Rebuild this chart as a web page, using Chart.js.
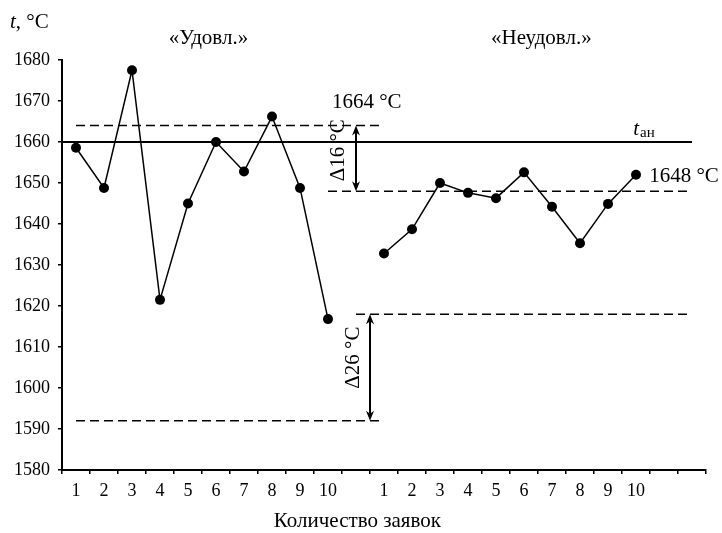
<!doctype html>
<html lang="ru">

<head>
    <meta charset="UTF-8" />
    <title>Температура по заявкам</title>
    <script src="https://cdn.jsdelivr.net/npm/chart.js"></script>
    <style>
        html, body { margin: 0; padding: 0; background: #fff; }
        #wrap { width: 722px; height: 533px; }
    </style>
</head>

<body>
    <div id="wrap"><canvas id="chart"></canvas></div>
    <script>
        // Categories: 10 orders, a gap, 10 orders, two empty slots.
        const CATEGORIES = ['1', '2', '3', '4', '5', '6', '7', '8', '9', '10', '',
            '1', '2', '3', '4', '5', '6', '7', '8', '9', '10', '', ''];
        const SATISFACTORY = [1658.6, 1648.8, 1677.5, 1621.5, 1645, 1660, 1652.8, 1666.2, 1648.8, 1616.8];
        const UNSATISFACTORY = [1632.8, 1638.7, 1650, 1647.6, 1646.3, 1652.6, 1644.2, 1635.3, 1644.9, 1652];
        const Y_MIN = 1580, Y_MAX = 1680, Y_STEP = 10;
        const T_AN = 1660;
        // [level, from category, to category]
        const DASHED = [[1664, 0, 11], [1648, 9, 22], [1618, 10, 22], [1592, 0, 11]];
        // [category, from level, to level]
        const ARROWS = [[10, 1648, 1664], [10.5, 1592, 1618]];

        const FONT = "'Liberation Serif', 'Times New Roman', serif";
        const LABEL_SIZE = 21;
        Chart.defaults.font.family = FONT;
        Chart.defaults.color = '#000';

        let goodData = CATEGORIES.map((c, i) => (i < 10 ? SATISFACTORY[i] : null));
        let badData = CATEGORIES.map((c, i) => (i >= 11 && i <= 20 ? UNSATISFACTORY[i - 11] : null));

        function seriesSet(data) {
            return {
                data: data,
                borderColor: '#000',
                borderWidth: 1.5,
                pointRadius: 5,
                pointBackgroundColor: '#000',
                pointBorderWidth: 0,
                tension: 0,
                order: 0,
            };
        }

        function levelSet(level, from, to, dash, width) {
            return {
                xAxisID: 'xl',
                data: [{ x: from, y: level }, { x: to, y: level }],
                borderColor: '#000',
                borderWidth: width,
                borderDash: dash,
                pointRadius: 0,
                order: 1,
            };
        }

        let datasets = [seriesSet(goodData), seriesSet(badData),
            levelSet(T_AN, -0.5, 22, [], 2)];
        for (let [lv, a, b] of DASHED) datasets.push(levelSet(lv, a, b, [9, 5], 1.5));

        function text(ctx, str, x, y, size, align, style) {
            ctx.font = (style || '') + ' ' + size + 'px ' + FONT;
            ctx.textAlign = align || 'left';
            ctx.textBaseline = 'alphabetic';
            ctx.fillText(str, x, y);
            return ctx.measureText(str).width;
        }

        // Double-headed vertical arrow between two pixel heights.
        function arrow(ctx, x, ya, yb) {
            let top = Math.min(ya, yb), bot = Math.max(ya, yb);
            ctx.lineWidth = 2;
            ctx.beginPath();
            ctx.moveTo(x, top + 6);
            ctx.lineTo(x, bot - 6);
            ctx.stroke();
            for (let [tip, dir] of [[top, 1], [bot, -1]]) {
                ctx.beginPath();
                ctx.moveTo(x, tip);
                ctx.lineTo(x - 4, tip + dir * 10);
                ctx.lineTo(x, tip + dir * 7);
                ctx.lineTo(x + 4, tip + dir * 10);
                ctx.closePath();
                ctx.fill();
            }
        }

        const annotations = {
            id: 'annotations',
            afterDatasetsDraw(chart) {
                const { ctx, chartArea, scales: { x, y } } = chart;
                ctx.save();
                ctx.fillStyle = '#000';
                ctx.strokeStyle = '#000';

                for (let [c, a, b] of ARROWS)
                    arrow(ctx, x.getPixelForValue(c), y.getPixelForValue(a), y.getPixelForValue(b));

                // y axis title
                let w = text(ctx, 't', 10, 28, LABEL_SIZE, 'left', 'italic');
                text(ctx, ', °C', 10 + w, 28, LABEL_SIZE, 'left');

                // group titles
                text(ctx, '«Удовл.»', x.getPixelForValue(4.73), 44, LABEL_SIZE, 'center');
                text(ctx, '«Неудовл.»', x.getPixelForValue(16.62), 44, LABEL_SIZE, 'center');

                // level labels
                text(ctx, '1664 °C', x.getPixelForValue(9.14), y.getPixelForValue(1668.3), LABEL_SIZE, 'left');
                text(ctx, '1648 °C', x.getPixelForValue(20.47), y.getPixelForValue(1650.2), LABEL_SIZE, 'left');
                let tx = x.getPixelForValue(19.9), ty = y.getPixelForValue(1661.7);
                w = text(ctx, 't', tx, ty, LABEL_SIZE, 'left', 'italic');
                text(ctx, 'ан', tx + w + 1, ty + 2, 15, 'left');

                // rotated deltas
                for (let [str, c, v] of [['Δ16 °C', 9.37, 1658], ['Δ26 °C', 9.9, 1607.4]]) {
                    ctx.save();
                    ctx.translate(x.getPixelForValue(c), y.getPixelForValue(v));
                    ctx.rotate(-Math.PI / 2);
                    ctx.font = LABEL_SIZE + 'px ' + FONT;
                    ctx.textAlign = 'center';
                    ctx.textBaseline = 'middle';
                    ctx.fillText(str, 0, 0);
                    ctx.restore();
                }

                // x axis title
                text(ctx, 'Количество заявок', x.getPixelForValue(10.05), chartArea.bottom + 57, LABEL_SIZE, 'center');
                ctx.restore();
            },
        };

        new Chart(document.getElementById('chart'), {
            type: 'line',
            data: { labels: CATEGORIES, datasets: datasets },
            plugins: [annotations],
            options: {
                responsive: true,
                maintainAspectRatio: false,
                animation: false,
                layout: { padding: { top: 60, right: 16, left: 0, bottom: 0 } },
                plugins: { legend: { display: false }, tooltip: { enabled: false } },
                scales: {
                    x: {
                        type: 'category',
                        offset: true,
                        grid: { drawOnChartArea: false, drawTicks: true, tickLength: 4, color: '#000', lineWidth: 1.5, offset: true },
                        border: { display: true, color: '#000', width: 2 },
                        ticks: { font: { size: 18 }, padding: 6, autoSkip: false, maxRotation: 0 },
                        afterFit: (s) => { s.height = 63; },
                    },
                    xl: { type: 'linear', display: false, min: -0.5, max: 22.5 },
                    y: {
                        min: Y_MIN,
                        max: Y_MAX,
                        grid: { drawOnChartArea: false, drawTicks: true, tickLength: 4, color: '#000', lineWidth: 1.5 },
                        border: { display: true, color: '#000', width: 2 },
                        ticks: { stepSize: Y_STEP, font: { size: 18 }, padding: 8, callback: (v) => String(v) },
                        afterFit: (s) => { s.width = 62; },
                    },
                },
            },
        });
    </script>
</body>

</html>
